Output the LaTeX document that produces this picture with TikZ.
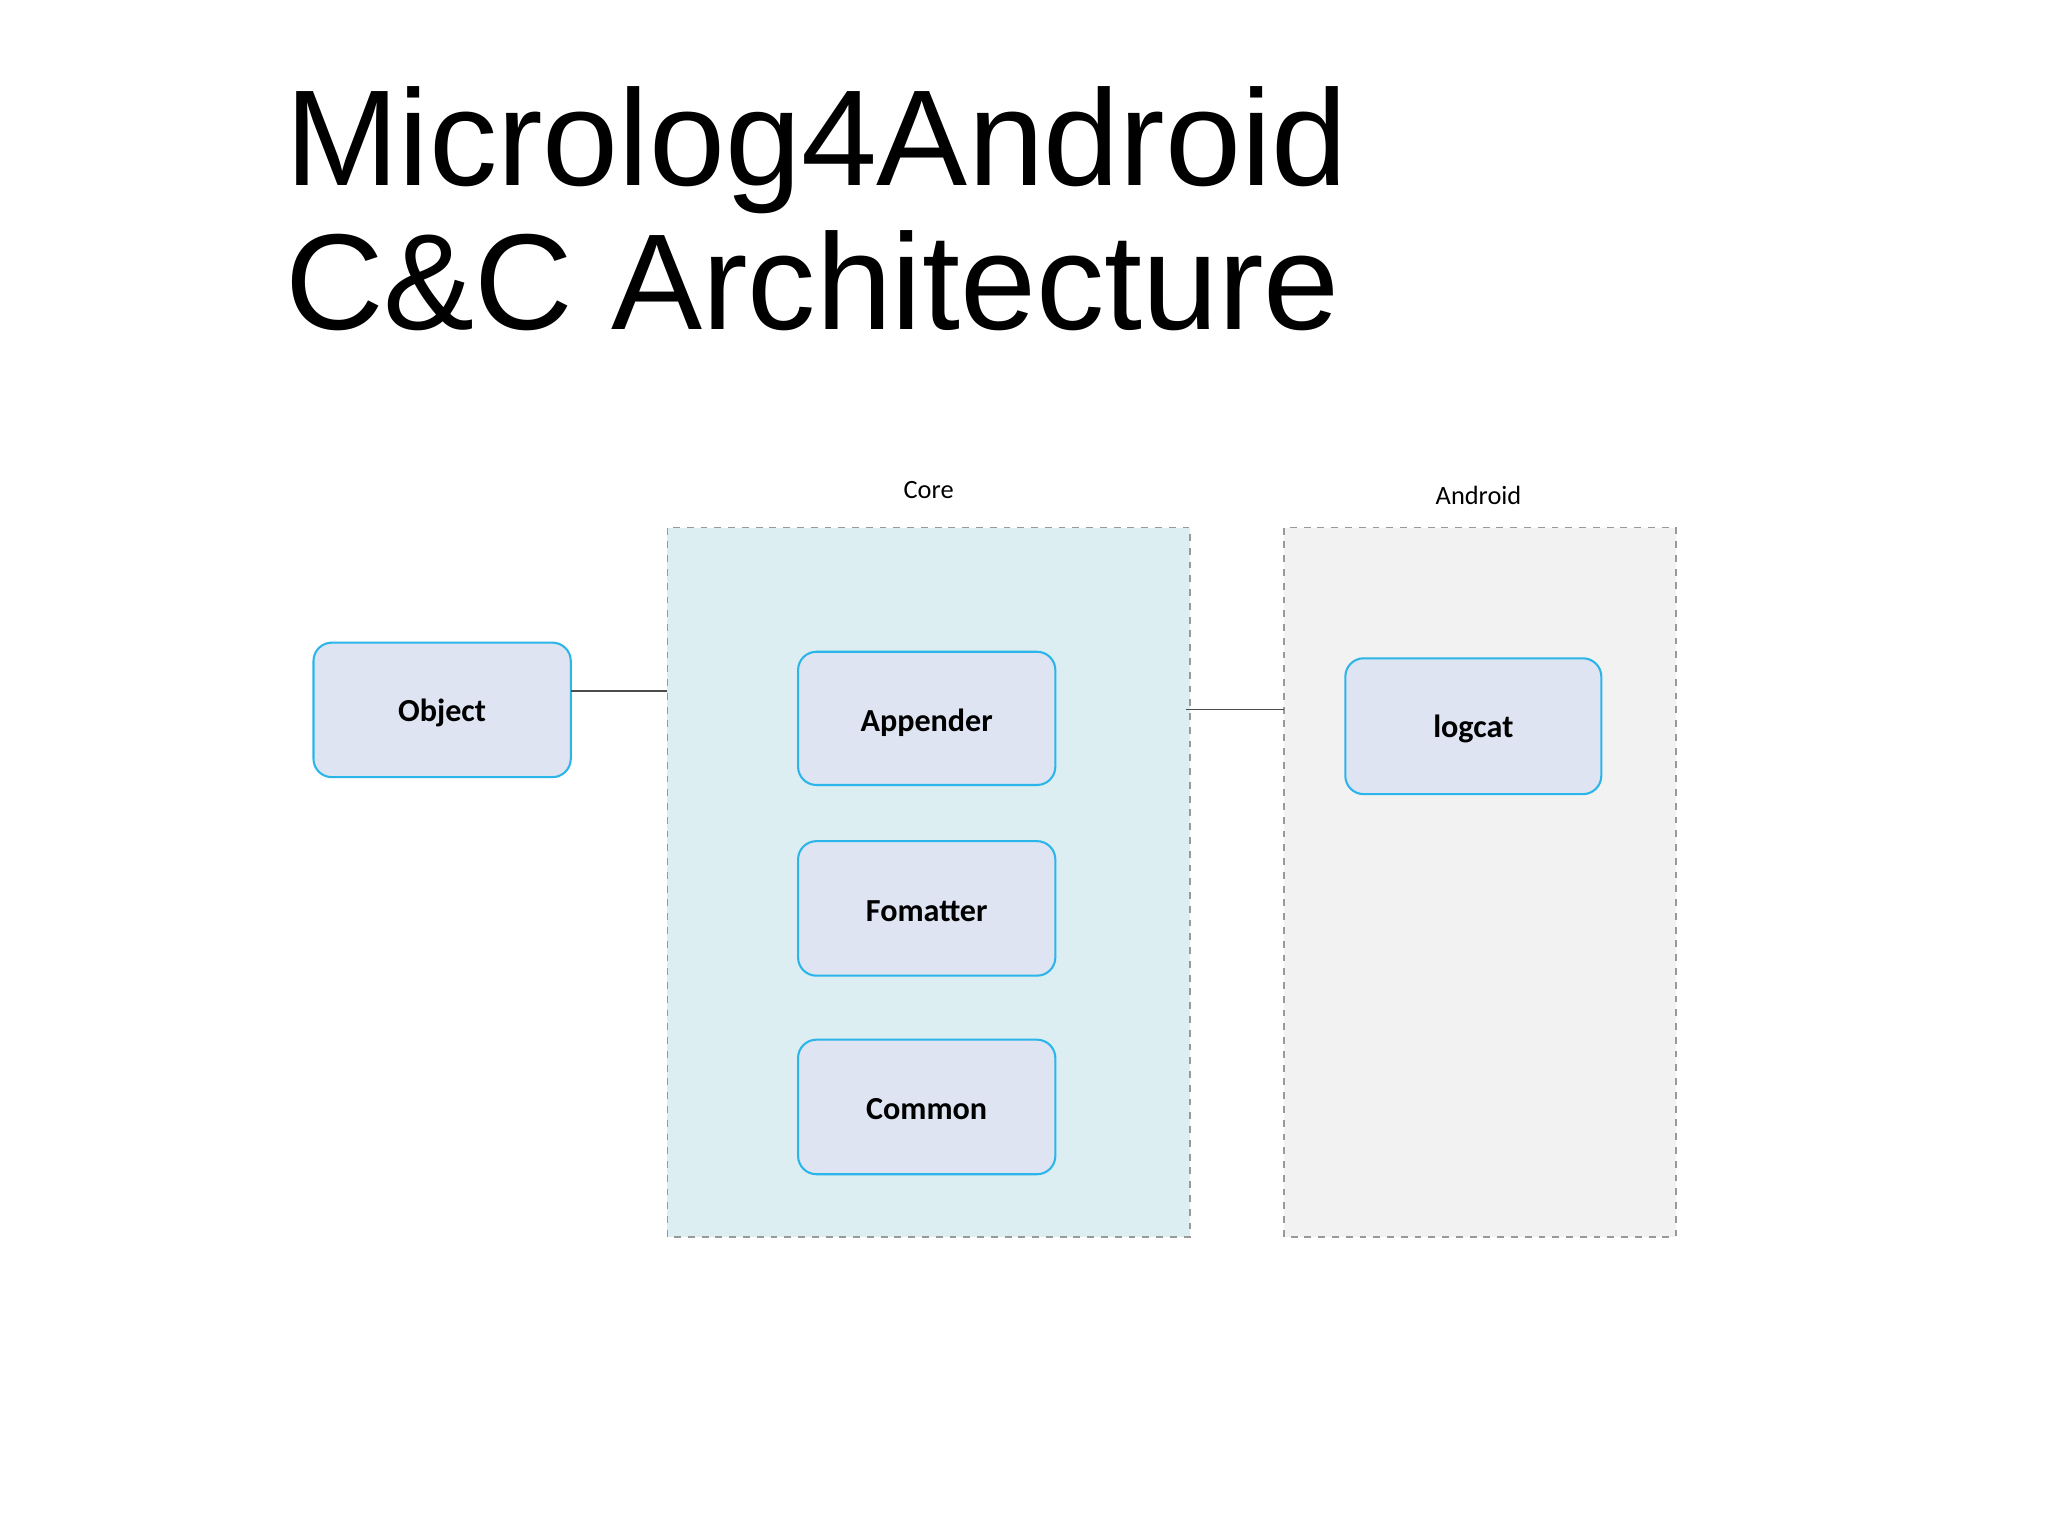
\documentclass[tikz,border=0pt]{standalone}
\usepackage{fontspec}
\setmainfont{Carlito}
\newfontfamily\titlefont{Liberation Sans}
\definecolor{nodefill}{HTML}{DEE4F2}
\definecolor{nodeline}{HTML}{2BB5E8}
\definecolor{corefill}{HTML}{DCEEF2}
\definecolor{andfill}{HTML}{F2F2F2}
\begin{document}
\begin{tikzpicture}[x=0.02cm,y=-0.02cm,
  comp/.style={draw=nodeline, line width=0.9pt, rounded corners=8pt, fill=nodefill},
  ctext/.style={font=\bfseries\fontsize{14}{16}\selectfont},
  group/.style={draw=gray!80, dashed, line width=0.7pt},
  conn/.style={draw=black!70, line width=0.6pt},
  lbl/.style={font=\fontsize{11.5}{13}\selectfont}]
\useasboundingbox (0,0) rectangle (1568,1176);
\node[anchor=base west, font=\titlefont\fontsize{59.5}{62}\selectfont, inner sep=0] (t1) at (218,142) {Microlog4Android};
\node[anchor=base west, font=\titlefont\fontsize{59.5}{62}\selectfont, inner sep=0] (t2) at (218,252) {C\&C Architecture};
\draw[group, fill=corefill] (511,404) rectangle (911,947);
\node[lbl] (corel) at (711,375) {Core};
\draw[group, fill=andfill] (983,404) rectangle (1283,947);
\node[lbl] (andl) at (1132,379) {Android};
\coordinate (coreL) at (511,529);
\coordinate (coreR) at (908,543);
\coordinate (andL) at (983,543);
\draw[comp] (240,492) rectangle (437,595);
\node[ctext] (obj) at (338.5,546) {Object};
\draw[comp] (611,499) rectangle (808,601);
\node[ctext] (app) at (709.5,553) {Appender};
\draw[comp] (611,644) rectangle (808,747);
\node[ctext] (fom) at (709.5,698) {Fomatter};
\draw[comp] (611,796) rectangle (808,899);
\node[ctext] (com) at (709.5,849) {Common};
\draw[comp] (1030,504) rectangle (1226,608);
\node[ctext] (log) at (1128,558) {logcat};
\coordinate (objR) at (437,529);
\draw[conn] (objR) -- (coreL);
\draw[conn] (coreR) -- (andL);
\end{tikzpicture}
\end{document}
